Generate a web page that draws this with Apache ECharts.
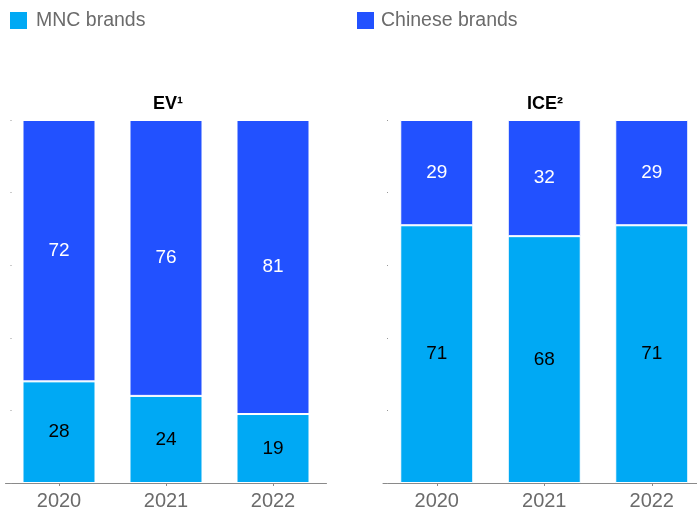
<!DOCTYPE html>
<html>
<head>
<meta charset="utf-8">
<script src="https://cdn.jsdelivr.net/npm/echarts@6/dist/echarts.min.js"></script>
<style>
  html, body { margin: 0; padding: 0; background: #fff; }
  #chart { width: 697px; height: 516px; }
</style>
</head>
<body>
<div id="chart"></div>
<script>
// Market share (%) by brand origin, EV vs ICE
const years = ['2020', '2021', '2022'];
const evMnc = [28, 24, 19];
const evChinese = [72, 76, 81];
const iceMnc = [71, 68, 71];
const iceChinese = [29, 32, 29];

const MNC_COLOR = '#00A9F4';
const CN_COLOR = '#2251FF';
const FONT = 'Arial, "Liberation Sans", sans-serif';

const chart = echarts.init(document.getElementById('chart'), null, { renderer: 'canvas' });

function xAxis(gridIndex) {
  return {
    type: 'category', gridIndex, data: years,
    axisLine: { lineStyle: { color: '#8a8a8a', width: 1 } },
    axisTick: { show: true, alignWithLabel: true, length: 3, lineStyle: { color: '#8a8a8a' } },
    axisLabel: { color: '#6b6b6b', fontSize: 20, fontFamily: FONT, margin: 8 }
  };
}
function yAxis(gridIndex, offset) {
  return {
    type: 'value', gridIndex, min: 0, max: 100, interval: 20, offset,
    axisLine: { show: false },
    axisTick: { show: true, length: 1, lineStyle: { color: '#999' } },
    axisLabel: { show: false },
    splitLine: { show: false }
  };
}
function barSeries(name, data, idx, color, labelColor) {
  return {
    name, type: 'bar', stack: 'g' + idx, xAxisIndex: idx, yAxisIndex: idx,
    data, barWidth: 73,
    itemStyle: { color, borderColor: '#fff', borderWidth: 1 },
    label: { show: true, position: 'inside', color: labelColor, fontSize: 19, fontFamily: FONT },
    emphasis: { disabled: true }
  };
}

const legendText = { fontSize: 19.5, color: '#6b6b6b', fontFamily: FONT };

chart.setOption({
  animation: false,
  title: [
    { text: 'EV¹', left: 163, top: 90, textAlign: 'center',
      textStyle: { fontSize: 18, fontWeight: 'bold', color: '#000', fontFamily: FONT } },
    { text: 'ICE²', left: 540, top: 90, textAlign: 'center',
      textStyle: { fontSize: 18, fontWeight: 'bold', color: '#000', fontFamily: FONT } }
  ],
  legend: [
    { data: ['MNC brands'], left: 8, top: 10, padding: 0, icon: 'rect', itemWidth: 19, itemHeight: 19,
      selectedMode: false, textStyle: Object.assign({ padding: [0, 0, 0, 3] }, legendText) },
    { data: ['Chinese brands'], left: 355, top: 10, padding: 0, icon: 'rect', itemWidth: 19, itemHeight: 19,
      selectedMode: false, textStyle: Object.assign({ padding: [0, 0, 0, 1] }, legendText) }
  ],
  grid: [
    { left: 5.5, right: 370.5, top: 120, bottom: 33, outerBoundsMode: 'none' },
    { left: 383, right: -8.5, top: 120, bottom: 33, outerBoundsMode: 'none' }
  ],
  xAxis: [xAxis(0), xAxis(1)],
  yAxis: [yAxis(0, -6), yAxis(1, -5)],
  series: [
    barSeries('MNC brands', evMnc, 0, MNC_COLOR, '#000'),
    barSeries('Chinese brands', evChinese, 0, CN_COLOR, '#fff'),
    barSeries('MNC brands', iceMnc, 1, MNC_COLOR, '#000'),
    barSeries('Chinese brands', iceChinese, 1, CN_COLOR, '#fff')
  ]
});
</script>
</body>
</html>
